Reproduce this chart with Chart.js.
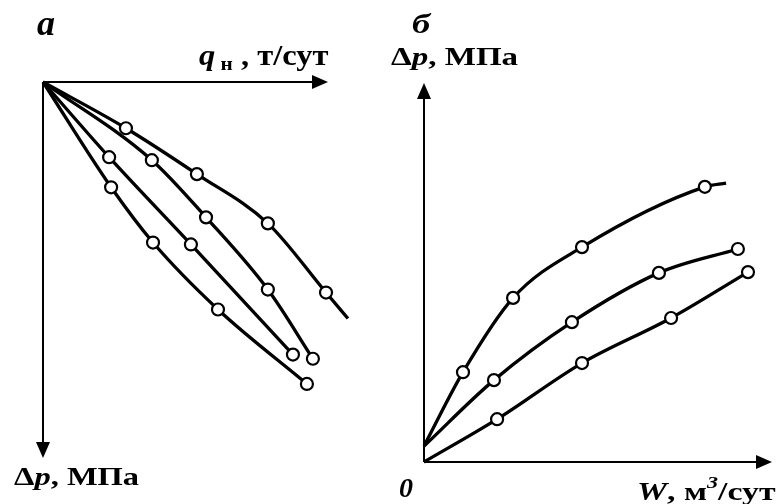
<!DOCTYPE html>
<html>
<head>
<meta charset="utf-8">
<script src="https://cdn.jsdelivr.net/npm/chart.js@4.4.1/dist/chart.umd.min.js"></script>
<style>
body { margin: 0; background: #fff; }
#wrap { position: relative; width: 776px; height: 504px; overflow: hidden; }
canvas { position: absolute; top: 0; }
.lbl { position: absolute; font-family: "Liberation Serif", "Times New Roman", serif; font-weight: bold;
       color: #000; white-space: nowrap; line-height: 1; transform-origin: left top; }
.lbl i { font-style: italic; }
</style>
</head>
<body>
<div id="wrap">
  <canvas id="graph-a" width="388" height="504" style="left:0"></canvas>
  <canvas id="graph-b" width="388" height="504" style="left:388px"></canvas>

  <div class="lbl" style="left:37px;top:5px;font-size:36px"><i>а</i></div>
  <div class="lbl" style="left:199px;top:41px;font-size:29px;transform:scaleX(1.12)"><i>q</i><span style="font-size:19px;position:relative;top:5px"> н</span> , т/сут</div>
  <div class="lbl" style="left:14px;top:464px;font-size:26px;transform:scaleX(1.25)">Δ<i>p</i>, МПа</div>

  <div class="lbl" style="left:412px;top:10px;font-size:28px;transform:scaleX(1.3)"><i>б</i></div>
  <div class="lbl" style="left:391px;top:44px;font-size:26px;transform:scaleX(1.27)">Δ<i>p</i>, МПа</div>
  <div class="lbl" style="left:399px;top:474px;font-size:28px"><i>0</i></div>
  <div class="lbl" style="left:637px;top:476px;font-size:26px;transform:scaleX(1.3)"><i>W</i>, м<sup style="font-size:17px;font-style:italic;position:relative;top:-2px">3</sup>/сут</div>
</div>

<script>
// ---- panel a : q_н (right) vs Δp (down) ----
var qA1 = [0, 2.91, 5.40, 7.89, 9.93, 10.70];
var dpA1 = [0, 1.23, 2.45, 3.76, 5.60, 6.29];
var qA2 = [0, 3.82, 5.72, 7.89, 9.47];
var dpA2 = [0, 2.08, 3.60, 5.52, 7.36];
var qA3 = [0, 2.32, 5.19, 8.77];
var dpA3 = [0, 2.00, 4.32, 7.25];
var qA4 = [0, 2.39, 3.86, 6.14, 9.26];
var dpA4 = [0, 2.80, 4.27, 6.05, 8.03];

// ---- panel b : W (right) vs Δp (up) ----
var wB1 = [0, 1.12, 2.56, 4.54, 8.07, 8.68];
var dpB1 = [0.42, 2.37, 4.33, 5.67, 7.26, 7.36];
var wB2 = [0, 2.01, 4.25, 6.75, 9.02];
var dpB2 = [0.42, 2.16, 3.69, 4.99, 5.62];
var wB3 = [0, 2.10, 4.54, 7.10, 9.31];
var dpB3 = [0, 1.13, 2.61, 3.80, 5.01];

// length of drawn axes (arrow tips), in data units
var axisEndA = { x: 10, y: 10 };
var axisEndB = { x: 10, y: 10 };

// builds a curve; first point (origin) and an optional tail point have no marker
function aCurve(xs, ys, tail) {
    var pts = [];
    var radius = [];
    for (var i = 0; i < xs.length; i++) {
        pts.push({ x: xs[i], y: ys[i] });
        var noMark = (i == 0) || (tail && i == xs.length - 1);
        radius.push(noMark ? 0 : 6);
    }
    return {
        data: pts,
        borderColor: '#000',
        borderWidth: 3.3,
        cubicInterpolationMode: 'monotone',
        fill: false,
        clip: false,
        pointRadius: radius,
        pointBackgroundColor: '#fff',
        pointBorderColor: '#000',
        pointBorderWidth: 2.2,
        pointHoverRadius: radius
    };
}

function arrowHead(ctx, x, y, dir) {
    var len = 16, half = 7;
    ctx.beginPath();
    if (dir == 'right') { ctx.moveTo(x, y); ctx.lineTo(x - len, y - half); ctx.lineTo(x - len, y + half); }
    if (dir == 'down')  { ctx.moveTo(x, y); ctx.lineTo(x - half, y - len); ctx.lineTo(x + half, y - len); }
    if (dir == 'up')    { ctx.moveTo(x, y); ctx.lineTo(x - half, y + len); ctx.lineTo(x + half, y + len); }
    ctx.closePath();
    ctx.fill();
}

// draws the two arrowed axes through the chart's own scales
var axesPlugin = {
    id: 'arrowAxes',
    beforeDatasetsDraw: function (chart, args, opts) {
        var ctx = chart.ctx;
        var xs = chart.scales.x, ys = chart.scales.y;
        var x0 = xs.getPixelForValue(0), y0 = ys.getPixelForValue(0);
        var x1 = xs.getPixelForValue(opts.xEnd), y1 = ys.getPixelForValue(opts.yEnd);
        ctx.save();
        ctx.strokeStyle = '#000';
        ctx.fillStyle = '#000';
        ctx.lineWidth = 2;
        ctx.beginPath();
        ctx.moveTo(x1 - 10, y0); ctx.lineTo(x0, y0);
        ctx.moveTo(x0, y0); ctx.lineTo(x0, opts.yDir == 'down' ? y1 - 10 : y1 + 10);
        ctx.stroke();
        arrowHead(ctx, x1, y0, 'right');
        arrowHead(ctx, x0, y1, opts.yDir);
        ctx.restore();
    }
};

function createGraph(place, datasets, xMax, yMax, yReverse, padding, ends, yDir) {
    var ctx = document.getElementById(place).getContext('2d');
    return new Chart(ctx, {
        type: 'line',
        data: { datasets: datasets },
        options: {
            responsive: false,
            animation: false,
            devicePixelRatio: 1,
            layout: { padding: padding, autoPadding: false },
            plugins: {
                legend: { display: false },
                tooltip: { enabled: false },
                arrowAxes: { xEnd: ends.x, yEnd: ends.y, yDir: yDir }
            },
            scales: {
                x: { type: 'linear', min: 0, max: xMax, display: false },
                y: { type: 'linear', min: 0, max: yMax, reverse: yReverse, display: false }
            }
        },
        plugins: [axesPlugin]
    });
}

createGraph('graph-a',
    [aCurve(qA1, dpA1, true), aCurve(qA2, dpA2, false), aCurve(qA3, dpA3, false), aCurve(qA4, dpA4, false)],
    12, 10, true, { left: 43, top: 82, right: 3, bottom: 46 }, axisEndA, 'down');

createGraph('graph-b',
    [aCurve(wB1, dpB1, true), aCurve(wB2, dpB2, false), aCurve(wB3, dpB3, false)],
    10, 10, false, { left: 36, top: 83, right: 4, bottom: 42 }, axisEndB, 'up');
</script>
</body>
</html>
